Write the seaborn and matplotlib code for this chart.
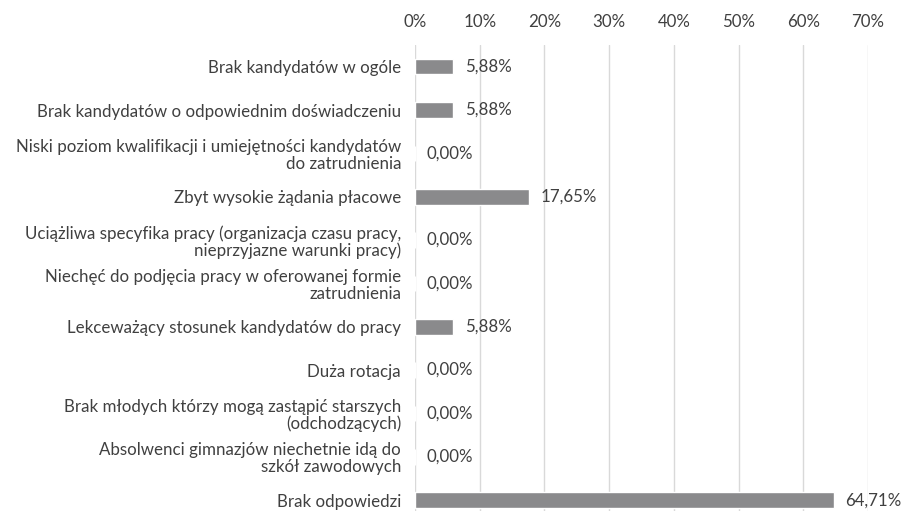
import pandas as pd
import matplotlib.pyplot as plt
import seaborn as sns
from matplotlib.ticker import FuncFormatter

# dane
kategorie = [
    "Brak kandydatów w ogóle",
    "Brak kandydatów o odpowiednim doświadczeniu",
    "Niski poziom kwalifikacji i umiejętności kandydatów\ndo zatrudnienia",
    "Zbyt wysokie żądania płacowe",
    "Uciążliwa specyfika pracy (organizacja czasu pracy,\nnieprzyjazne warunki pracy)",
    "Niechęć do podjęcia pracy w oferowanej formie\nzatrudnienia",
    "Lekceważący stosunek kandydatów do pracy",
    "Duża rotacja",
    "Brak młodych którzy mogą zastąpić starszych\n(odchodzących)",
    "Absolwenci gimnazjów niechetnie idą do\nszkół zawodowych",
    "Brak odpowiedzi",
]
wartosci = [5.88, 5.88, 0.00, 17.65, 0.00, 0.00, 5.88, 0.00, 0.00, 0.00, 64.71]
ticki = [0, 10, 20, 30, 40, 50, 60, 70]

df = pd.DataFrame({"kategoria": kategorie, "wartosc": wartosci})

sns.set_theme(style="white")
plt.rcParams['font.family'] = ['Lato', 'DejaVu Sans']
kolor_tekstu = "#404040"
rozmiar = 12.2

fig = plt.figure(figsize=(9.03, 5.11), dpi=100)
ax = fig.add_axes([415 / 903, 0, (868 - 415) / 903, 1 - 45 / 511])

sns.barplot(data=df, y="kategoria", x="wartosc", color="#8a8a8c", width=0.36,
            saturation=1, ax=ax)

ax.set_xlim(0, 70)
ax.set_ylim(10.25, -0.5)
ax.set_xticks(ticki)
ax.xaxis.set_major_formatter(FuncFormatter(lambda v, p: f"{v:.0f}%"))
ax.xaxis.tick_top()
ax.tick_params(axis="x", length=0, pad=11, labelsize=rozmiar, labelcolor=kolor_tekstu)
ax.tick_params(axis="y", length=0, pad=10, labelsize=rozmiar, labelcolor=kolor_tekstu)
for lab in ax.get_yticklabels():
    lab.set_multialignment("right")
    lab.set_linespacing(1.05)
ax.set_xlabel("")
ax.set_ylabel("")
ax.grid(axis="x", color="#d9d9d9", linewidth=1)
ax.set_axisbelow(True)
for s in ax.spines.values():
    s.set_visible(False)

# etykiety wartości
for i, v in enumerate(wartosci):
    ax.text(v + 1.8, i, f"{v:.2f}%".replace(".", ","),
            va="center", ha="left", fontsize=rozmiar, color=kolor_tekstu)

fig.savefig("out.png", dpi=100)
